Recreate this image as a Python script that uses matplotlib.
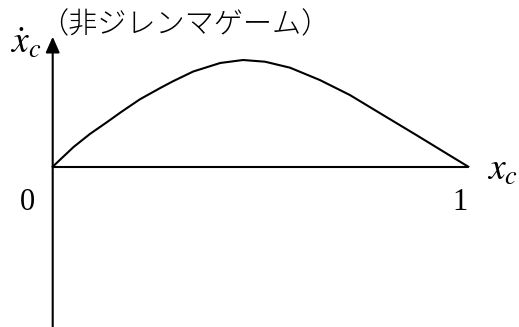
import matplotlib
matplotlib.use("Agg")
import matplotlib.pyplot as plt

plt.rcParams["mathtext.fontset"] = "stix"

# Replicator dynamics of the cooperator share x_c (non-dilemma game)
xc = [0.000, 0.050, 0.090, 0.130, 0.166, 0.210, 0.258, 0.289, 0.338,
      0.403, 0.458, 0.511, 0.571, 0.643, 0.715, 0.795, 0.877, 0.956, 1.000]
xc_dot = [0.000, 0.046, 0.077, 0.104, 0.129, 0.158, 0.184, 0.200, 0.223,
          0.243, 0.250, 0.246, 0.232, 0.203, 0.168, 0.121, 0.073, 0.026, 0.000]

title_text = "（非ジレンマゲーム）"
x_tick_labels = ["0", "1"]
x_tick_values = [0, 1]

fig = plt.figure(figsize=(5.19, 3.27), dpi=100)
ax = fig.add_axes([0, 0, 1, 1])
ax.set_xlim(-0.1268, 1.122)
ax.set_ylim(-0.3756, 0.3906)
ax.axis("off")

lw = 1.5
# vertical axis with arrow head
ax.annotate("", xy=(0, 0.3046), xytext=(0, -0.40),
            arrowprops=dict(arrowstyle="-|>,head_length=0.95,head_width=0.42",
                            lw=lw, color="black", shrinkA=0, shrinkB=0,
                            mutation_scale=10))
# horizontal axis segment [0, 1]
ax.plot([x_tick_values[0], x_tick_values[-1]], [0, 0], color="black", lw=lw,
        solid_capstyle="butt")
# the curve
ax.plot(xc, xc_dot, color="black", lw=lw, solid_joinstyle="round")

# axis labels
ax.text(-0.066, 0.29, r"$\dot{x}_c$", fontsize=27, ha="center", va="center")
ax.text(1.083, -0.008, r"$x_c$", fontsize=27, ha="center", va="center")

# tick labels
tick_x = {0: -0.061, 1: 0.98}
for v, lab in zip(x_tick_values, x_tick_labels):
    ax.text(tick_x[v], -0.085, lab, fontsize=22,
            family=["Liberation Serif", "DejaVu Serif"], ha="center", va="center")

# title
ax.text(-0.032, 0.332, title_text, fontsize=21, fontweight="light",
        family=["Noto Sans CJK JP", "DejaVu Sans"], ha="left", va="center")

fig.savefig("out.png", dpi=100)
